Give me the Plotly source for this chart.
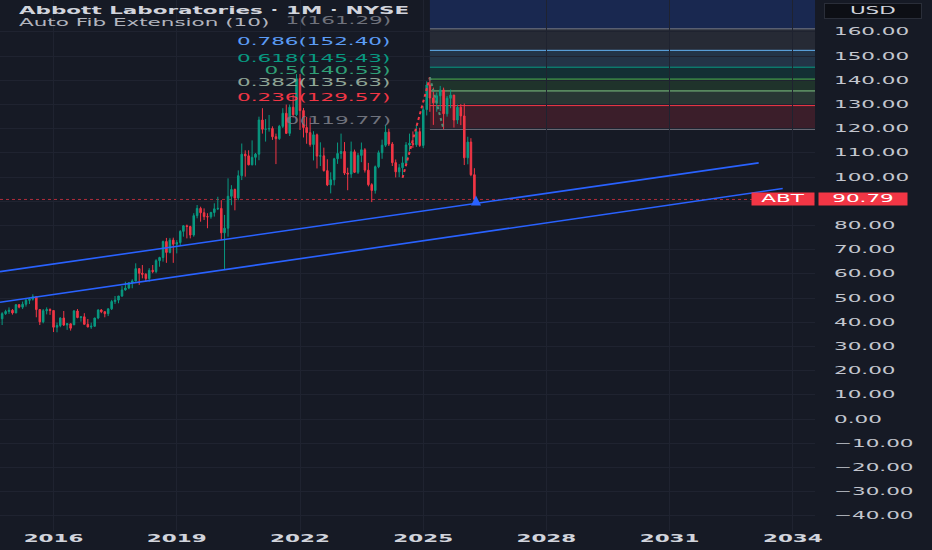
import pandas as pd
import plotly.graph_objects as go

# ------------------------------------------------------------
# ABT monthly bars, Oct 2014 -> Apr 2026
# ------------------------------------------------------------
months = pd.date_range("2014-10-01", "2026-04-01", freq="MS")

open_ = [
    41.5, 43.6, 44.5,
    45.0, 43.9, 47.3, 46.3, 47.5, 49.1, 49.6, 50.6, 45.3, 40.2, 44.8, 45.3,
    44.9, 38.0, 38.7, 41.8, 38.9, 39.4, 39.0, 44.7, 42.0, 42.3, 39.2, 38.1,
    38.4, 41.8, 45.1, 44.4, 43.6, 45.6, 48.6, 49.2, 50.9, 53.4, 54.2, 56.4,
    57.1, 62.2, 60.3, 59.9, 58.1, 61.5, 61.0, 65.5, 66.8, 73.4, 68.9, 74.0,
    72.3, 73.0, 77.6, 79.9, 79.6, 76.1, 84.1, 87.1, 85.3, 83.7, 83.6, 85.4,
    86.9, 87.1, 77.0, 78.9, 92.1, 94.9, 91.4, 100.6, 109.5, 108.8, 105.1, 108.2,
    109.5, 123.6, 119.8, 119.9, 120.1, 116.7, 115.9, 121.0, 126.4, 118.1, 128.9, 125.8,
    140.7, 127.5, 120.5, 118.4, 113.5, 117.5, 108.7, 108.8, 102.7, 96.8, 98.9, 107.6,
    109.8, 110.6, 101.7, 101.3, 110.5, 102.0, 109.0, 111.3, 102.9, 96.9, 94.5, 104.3,
    110.1, 113.2, 118.6, 113.7, 106.0, 102.2, 103.9, 105.9, 113.3, 114.0, 113.4, 118.8,
    113.1, 127.9, 138.1, 132.7, 130.7, 133.6, 136.0, 126.2, 132.6, 133.9, 123.6, 128.9,
    125.3, 108.0, 114.5, 101.0,
]
high = [
    44.2, 45.2, 46.2,
    45.5, 47.6, 47.6, 48.6, 49.7, 50.2, 51.6, 50.9, 45.3, 45.5, 46.2, 45.8,
    44.9, 39.9, 42.1, 44.7, 39.6, 39.6, 45.1, 45.5, 42.4, 43.8, 41.4, 39.9,
    41.9, 45.4, 45.5, 44.6, 45.7, 49.3, 50.9, 50.9, 55.0, 56.8, 56.4, 57.8,
    64.4, 62.4, 63.7, 60.3, 62.4, 63.7, 66.1, 67.1, 73.8, 74.9, 74.9, 75.0,
    74.0, 78.1, 80.2, 80.4, 79.9, 85.1, 88.5, 87.8, 87.1, 85.1, 85.7, 89.2,
    91.9, 90.5, 84.4, 99.5, 96.7, 95.3, 102.8, 113.9, 111.1, 111.1, 115.2, 110.0,
    125.0, 128.5, 124.0, 125.7, 121.0, 118.0, 121.6, 128.5, 130.0, 130.0, 134.1, 142.6,
    142.6, 128.6, 124.9, 124.5, 119.0, 118.0, 114.4, 112.2, 107.4, 102.0, 108.0, 114.3,
    118.0, 114.5, 103.9, 114.7, 111.4, 110.0, 114.3, 112.0, 105.9, 97.5, 104.8, 111.0,
    115.5, 121.6, 120.0, 114.5, 107.3, 105.4, 108.5, 114.5, 118.0, 118.9, 121.6, 120.4,
    129.3, 139.6, 141.3, 137.0, 135.0, 137.7, 137.0, 133.5, 136.2, 134.0, 130.0, 130.2,
    130.4, 116.7, 116.1, 103.7,
]
low = [
    38.9, 43.1, 43.5,
    43.2, 43.8, 45.8, 45.5, 46.5, 47.6, 49.0, 42.1, 38.9, 39.6, 43.3, 43.1,
    36.0, 35.9, 38.0, 38.5, 36.9, 36.6, 38.9, 41.7, 40.3, 39.1, 38.0, 37.3,
    38.2, 41.3, 43.8, 42.1, 42.6, 45.1, 47.6, 47.9, 50.5, 53.1, 53.7, 54.1,
    57.0, 55.5, 58.2, 56.8, 56.8, 60.3, 60.3, 63.0, 65.1, 64.6, 68.5, 64.6,
    68.5, 71.9, 75.4, 74.7, 74.7, 75.4, 83.0, 81.6, 82.3, 78.9, 82.8, 83.7,
    86.4, 74.0, 61.6, 75.4, 88.4, 86.3, 90.5, 98.8, 100.2, 104.9, 104.9, 104.9,
    107.0, 118.0, 114.7, 118.8, 115.4, 105.4, 115.4, 120.3, 117.9, 117.0, 124.6, 125.2,
    119.5, 116.4, 113.8, 112.6, 106.9, 103.6, 104.6, 102.3, 96.3, 93.3, 96.6, 105.5,
    107.6, 100.9, 94.6, 99.7, 101.7, 101.3, 106.2, 101.9, 96.2, 89.7, 93.2, 103.7,
    107.6, 112.5, 112.9, 104.6, 99.9, 100.0, 99.7, 104.9, 110.8, 112.1, 112.5, 112.5,
    112.0, 125.5, 127.0, 121.6, 127.0, 127.3, 119.8, 125.0, 128.5, 120.5, 122.0, 121.5,
    105.0, 105.3, 100.4, 89.6,
]
close = [
    43.6, 44.5, 45.0,
    43.9, 47.3, 46.3, 47.5, 49.1, 49.6, 50.6, 45.3, 40.2, 44.8, 45.3, 44.9,
    38.0, 38.7, 41.8, 38.9, 39.5, 37.6, 44.7, 42.0, 42.3, 39.2, 38.1, 38.4,
    41.8, 45.1, 44.4, 43.6, 45.6, 48.6, 49.2, 50.9, 53.4, 54.2, 56.4, 57.1,
    62.2, 60.3, 59.9, 58.1, 61.5, 61.0, 65.5, 66.8, 73.4, 68.9, 74.0, 72.3,
    73.0, 77.6, 79.9, 79.6, 76.1, 84.1, 87.1, 85.3, 83.7, 83.6, 85.4, 86.9,
    87.1, 77.0, 78.9, 92.1, 94.9, 91.4, 100.6, 109.5, 108.8, 105.1, 108.2, 109.5,
    123.6, 119.8, 119.9, 120.1, 116.7, 115.9, 121.0, 126.4, 118.1, 128.9, 125.8, 140.7,
    127.5, 120.5, 118.4, 113.5, 117.5, 108.7, 108.8, 102.7, 96.8, 98.9, 107.6, 109.8,
    110.6, 101.7, 101.3, 110.5, 102.0, 109.0, 111.3, 102.9, 96.9, 94.5, 104.3, 110.1,
    113.2, 118.6, 113.7, 106.0, 102.2, 103.9, 105.9, 113.3, 114.0, 113.4, 118.8, 113.1,
    127.9, 138.1, 132.7, 130.7, 133.6, 136.0, 126.2, 132.6, 133.9, 123.6, 128.9, 125.3,
    108.0, 114.5, 101.0, 90.79,
]

# Auto Fib Extension (10)
fib_levels = ["0", "0.236", "0.382", "0.5", "0.618", "0.786", "1"]
fib_values = [119.77, 129.57, 135.63, 140.53, 145.43, 152.40, 161.29]
fib_colors = ["#787b86", "#f23645", "#81c784", "#4caf50", "#089981", "#64b5f6", "#787b86"]
fib_label_colors = ["#6f727c", "#f23645", "#8fa596", "#2f9f76", "#089981", "#5b9cf6", "#6f727c"]
fib_start = "2025-03-01"
zigzag_x = ["2024-07-01", "2025-03-01", "2025-07-01"]
zigzag_y = [99.71, 141.23, 119.77]

# hand drawn channel lines
upper_x = ["2014-09-12", "2033-03-03"]
upper_y = [60.95, 105.9]
lower_x = ["2014-09-12", "2033-10-03"]
lower_y = [48.3, 95.3]

# little flag on the last bar
flag_x = ["2026-04-15"]
flag_y = [92.4]

last_price = 90.79
year_ticks = [2016, 2019, 2022, 2025, 2028, 2031, 2034]
price_ticks = list(range(-40, 170, 10))
x_range = ["2014-09-12", "2034-07-17"]
y_range = [-46.2, 173.2]

BG = "#161a25"
GRID = "#1f2330"
FONT = "DejaVu Sans"
FS = 10          # the screenshot text is squat and wide,
STRETCH = 2.15   # so glyphs get widened after drawing


def rgba(hex_color, a):
    h = hex_color.lstrip("#")
    return f"rgba({int(h[0:2], 16)},{int(h[2:4], 16)},{int(h[4:6], 16)},{a})"


fig = go.Figure()

fig.add_trace(go.Candlestick(
    x=months, open=open_, high=high, low=low, close=close,
    increasing=dict(line=dict(color="#089981", width=1), fillcolor="#089981"),
    decreasing=dict(line=dict(color="#f23645", width=1), fillcolor="#f23645"),
    whiskerwidth=0, hoverinfo="skip", showlegend=False,
))

# fib zigzag (low -> high -> pullback)
fig.add_trace(go.Scatter(
    x=zigzag_x[:2], y=zigzag_y[:2], mode="lines",
    line=dict(color="#f23645", width=2, dash="dot"), hoverinfo="skip",
))
fig.add_trace(go.Scatter(
    x=zigzag_x[1:], y=zigzag_y[1:], mode="lines",
    line=dict(color="#4f8a73", width=2, dash="dot"), hoverinfo="skip",
))

# channel
for xs, ys in [(upper_x, upper_y), (lower_x, lower_y)]:
    fig.add_trace(go.Scatter(
        x=xs, y=ys, mode="lines",
        line=dict(color="#2962ff", width=1.6), hoverinfo="skip",
    ))

fig.add_trace(go.Scatter(
    x=flag_x, y=flag_y, mode="markers",
    marker=dict(symbol="arrow-up", size=10, color="#2962ff"), hoverinfo="skip",
))

# fib bands + level lines
shapes = []
shapes.append(dict(
    type="rect", xref="x", yref="y", x0=fib_start, x1=x_range[1],
    y0=fib_values[-1], y1=y_range[1], fillcolor=rgba("#2962ff", 0.2),
    line=dict(width=0), layer="below",
))
for i in range(1, len(fib_values)):
    shapes.append(dict(
        type="rect", xref="x", yref="y", x0=fib_start, x1=x_range[1],
        y0=fib_values[i - 1], y1=fib_values[i], fillcolor=rgba(fib_colors[i], 0.17),
        line=dict(width=0), layer="below",
    ))
for val, col in zip(fib_values, fib_colors):
    shapes.append(dict(
        type="line", xref="x", yref="y", x0=fib_start, x1=x_range[1],
        y0=val, y1=val, line=dict(color=col, width=1), layer="below",
    ))

# last price dotted line
shapes.append(dict(
    type="line", xref="paper", yref="y", x0=0, x1=1, y0=last_price, y1=last_price,
    line=dict(color=rgba("#f23645", 0.7), width=1, dash="dot"), layer="below",
))

annotations = []
for lvl, val, col in zip(fib_levels, fib_values, fib_label_colors):
    annotations.append(dict(
        x=fib_start, y=val, xref="x", yref="y", text=f"{lvl}({val:.2f})",
        showarrow=False, xanchor="right", yanchor="bottom", align="right",
        xshift=-37, yshift=1,
        font=dict(family=FONT, size=FS, color=col),
    ))

annotations += [
    dict(x=17 / 815, y=1, xref="paper", yref="paper", xanchor="left", yanchor="top",
         align="left", yshift=-3, text="<b>Abbott Laboratories · 1M · NYSE</b>",
         showarrow=False, font=dict(family=FONT, size=FS, color="#d1d4dc")),
    dict(x=17 / 815, y=1, xref="paper", yref="paper", xanchor="left", yanchor="top",
         align="left", yshift=-15, text="Auto Fib Extension (10)", showarrow=False,
         font=dict(family=FONT, size=FS, color="#b2b5be")),
    dict(x=1, y=1, xref="paper", yref="paper", xanchor="left", yanchor="top",
         xshift=9, yshift=-3, text="USD", showarrow=False, width=94, height=12,
         bgcolor="#0d0f15", bordercolor="#2a2e39", borderwidth=1,
         font=dict(family=FONT, size=FS, color="#d1d4dc")),
    dict(x=1, y=last_price, xref="paper", yref="y", xanchor="right", yanchor="middle",
         text="ABT", showarrow=False, width=60, height=10, bgcolor="#f23645",
         font=dict(family=FONT, size=FS, color="#ffffff")),
    dict(x=1, y=last_price, xref="paper", yref="y", xanchor="left", yanchor="middle",
         xshift=3, text=f"{last_price:.2f}", showarrow=False, width=86, height=10,
         bgcolor="#f23645", font=dict(family=FONT, size=FS, color="#ffffff")),
]

fig.update_layout(
    width=932, height=550,
    margin=dict(l=0, r=117, t=0, b=19),
    paper_bgcolor=BG, plot_bgcolor=BG,
    font=dict(family=FONT, size=FS, color="#b2b5be"),
    showlegend=False,
    shapes=shapes,
    annotations=annotations,
    xaxis=dict(
        type="date", range=x_range, rangeslider=dict(visible=False),
        tickvals=[f"{y}-01-01" for y in year_ticks], ticktext=[str(y) for y in year_ticks],
        showgrid=True, gridcolor=GRID, zeroline=False, showline=False, ticks="",
        tickfont=dict(family=FONT, size=FS, color="#d1d4dc", weight="bold"),
    ),
    yaxis=dict(
        range=y_range, side="right", tickvals=price_ticks, tickformat=".2f",
        showgrid=True, gridcolor=GRID, zeroline=False, showline=False, ticks="",
        ticklabelstandoff=18,
        tickfont=dict(family=FONT, size=FS, color="#c3c6ce"),
    ),
)

# no page margin; widen every text around its anchor point
post = """
document.body.style.margin = '0';
var gd = document.getElementById('{plot_id}');
gd.querySelectorAll('text').forEach(function (t) {
    var x = parseFloat(t.getAttribute('x')) || 0;
    var tr = t.getAttribute('transform') || '';
    t.setAttribute('transform', tr + ' translate(' + x + ',0) scale(%s,1) translate(' + (-x) + ',0)');
});
""" % STRETCH

fig.write_html("out.html", post_script=post, config={"displayModeBar": False})
